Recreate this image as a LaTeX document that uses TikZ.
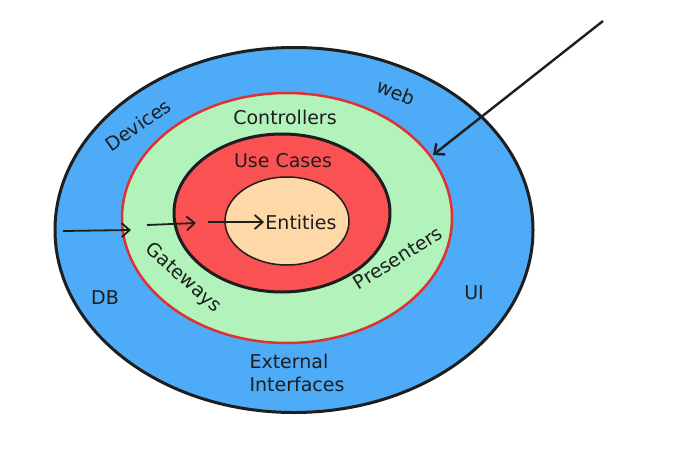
\documentclass[tikz,border=0pt]{standalone}
\usepackage{fontspec}
\setmainfont{DejaVu Sans}
\usetikzlibrary{shapes.geometric,arrows.meta}

\definecolor{ink}{HTML}{1E1E1E}
\definecolor{layerblue}{HTML}{4DABF7}
\definecolor{layergreen}{HTML}{B2F2BB}
\definecolor{layerred}{HTML}{FA5252}
\definecolor{layerpeach}{HTML}{FFD8A8}
\definecolor{rimred}{HTML}{E03131}

\begin{document}
\begin{tikzpicture}[x=1pt, y=-1pt, thick, >={Straight Barb[length=8pt,width=14pt]}]
  \tikzstyle{ring} = [ellipse, draw=ink, inner sep=0pt]
  \tikzstyle{lbl} = [font=\fontsize{19}{23}\selectfont, text=ink, inner sep=1pt]
  \tikzstyle{flow} = [->, draw=ink, line width=1.8pt]

  \useasboundingbox (0,0) rectangle (687,458);

  % layers, outside in
  \node[ring, fill=layerblue, line width=3pt, minimum width=478pt, minimum height=365pt] (ext) at (294,230) {};
  \node[ring, fill=layergreen, draw=rimred, line width=2.5pt, minimum width=330pt, minimum height=250pt] (adapt) at (287,218) {};
  \node[ring, fill=layerred, line width=3pt, minimum width=216pt, minimum height=158pt] (uc) at (282,213) {};
  \node[ring, fill=layerpeach, line width=1.5pt, minimum width=124pt, minimum height=88pt] (ent) at (287,221) {};

  % labels
  \node[lbl] (ents) at (301,222) {Entities};
  \node[lbl] (ucs) at (283,161) {Use Cases};
  \node[lbl] (ctrl) at (285,117) {Controllers};
  \node[lbl, rotate=-42] (gway) at (183,278) {Gateways};
  \node[lbl, rotate=32] (pres) at (398,258) {Presenters};
  \node[lbl, rotate=35] (dev) at (138,125) {Devices};
  \node[lbl, rotate=-22] (web) at (396,92) {web};
  \node[lbl] (db) at (105,298) {DB};
  \node[lbl] (ui) at (474,293) {UI};
  \node[lbl, align=left] (xif) at (297,373) {External\\Interfaces};

  % dependency arrows
  \coordinate (in1) at (63,231);
  \coordinate (to1) at (131,230);
  \coordinate (in2) at (147,225);
  \coordinate (to2) at (196,223);
  \coordinate (in3) at (208,222);
  \coordinate (far) at (603,21);
  \coordinate (hit) at (433,155);

  \draw[flow] (in1) -- (to1);
  \draw[flow] (in2) -- (to2);
  \draw[flow] (in3) -- (ents.west);
  \draw[flow, line width=2.4pt] (far) -- (hit);
\end{tikzpicture}
\end{document}
